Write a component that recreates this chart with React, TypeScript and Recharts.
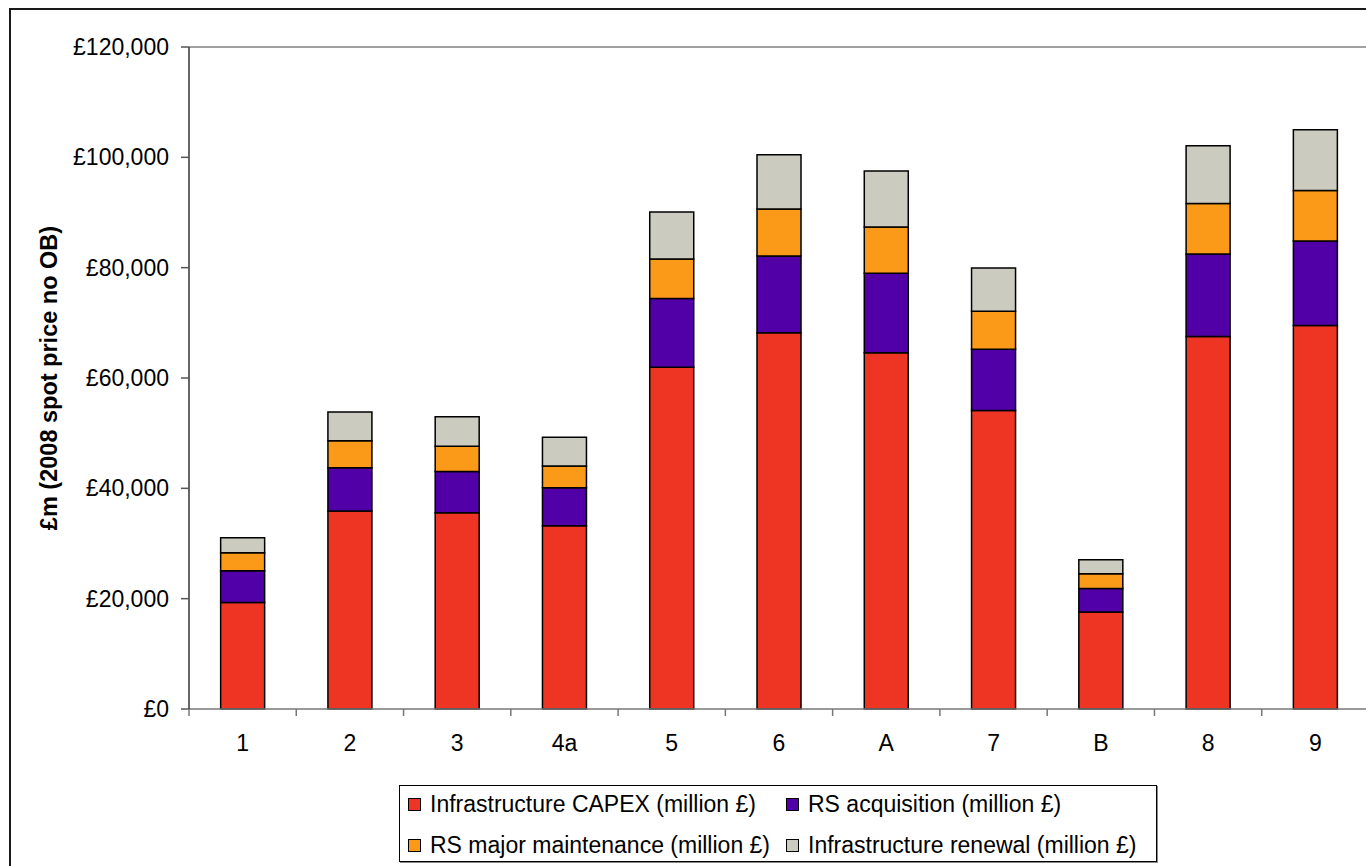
import React from 'react';
import { BarChart, Bar, XAxis, YAxis, ReferenceLine } from 'recharts';

const categories = ['1', '2', '3', '4a', '5', '6', 'A', '7', 'B', '8', '9'];
const infraCapex = [19300, 35900, 35570, 33210, 61970, 68180, 64560, 54100, 17580, 67510, 69500];
const rsAcquisition = [5760, 7850, 7480, 6890, 12430, 13950, 14440, 11130, 4270, 14990, 15350];
const rsMaintenance = [3260, 4890, 4600, 3930, 7190, 8520, 8390, 6880, 2660, 9110, 9120];
const infraRenewal = [2720, 5190, 5310, 5250, 8510, 9840, 10140, 7850, 2540, 10510, 11050];
const yTicks = [0, 20000, 40000, 60000, 80000, 100000, 120000];

const seriesNames = [
  'Infrastructure CAPEX (million £)',
  'RS acquisition (million £)',
  'RS major maintenance (million £)',
  'Infrastructure renewal (million £)',
];
const seriesKeys = ['capex', 'acq', 'maint', 'renew'];
const seriesColors = ['#EE3524', '#5000A6', '#FB9A19', '#CBCBBF'];
const yLabel = '£m (2008 spot price no OB)';

const data = categories.map((c, i) => ({
  name: c,
  capex: infraCapex[i],
  acq: rsAcquisition[i],
  maint: rsMaintenance[i],
  renew: infraRenewal[i],
}));

const FONT = '"Liberation Sans", Arial, sans-serif';
const CHART_W = 1400;
const CHART_H = 866;
const MARGIN = { top: 47, right: 31, bottom: 117, left: 89 };
const Y_AXIS_W = 100;
const PLOT_W = CHART_W - MARGIN.left - MARGIN.right - Y_AXIS_W;
const HALF_BAND = PLOT_W / categories.length / 2;

const fmt = (v: number) => '£' + v.toLocaleString('en-GB');

const XTick = (props: any) => {
  const { x, y, payload, index } = props;
  const half = HALF_BAND;
  return (
    <g>
      <line x1={x - half} x2={x - half} y1={y} y2={y + 7} stroke="#777" strokeWidth={1.5} />
      {index === categories.length - 1 && (
        <line x1={x + half} x2={x + half} y1={y} y2={y + 7} stroke="#777" strokeWidth={1.5} />
      )}
      <text x={x} y={y + 26} dy="0.71em" textAnchor="middle" fill="#000" fontSize={23} fontFamily={FONT}>
        {payload.value}
      </text>
    </g>
  );
};

const YLabel = (props: any) => {
  const vb = props.viewBox || { x: MARGIN.left, y: MARGIN.top, width: Y_AXIS_W, height: 662 };
  const cx = vb.x - 40;
  const cy = vb.y + vb.height / 2;
  return (
    <text
      x={cx}
      y={cy}
      transform={`rotate(-90 ${cx} ${cy})`}
      textAnchor="middle"
      dominantBaseline="central"
      fontSize={23.5}
      fontWeight="bold"
      fontFamily={FONT}
      fill="#000"
    >
      {yLabel}
    </text>
  );
};

export default function App() {
  return (
    <div
      style={{
        position: 'fixed',
        left: 0,
        top: 0,
        width: 1366,
        height: 866,
        overflow: 'hidden',
        background: '#fff',
        fontFamily: FONT,
      }}
    >
      <div
        style={{
          position: 'absolute',
          left: 9,
          top: 8,
          width: 1500,
          height: 1000,
          border: '2px solid #1a1a1a',
        }}
      />
      <div style={{ position: 'absolute', left: 0, top: 0 }}>
        <BarChart width={CHART_W} height={CHART_H} data={data} margin={MARGIN} barCategoryGap="29.5%">
          <ReferenceLine y={120000} stroke="#808080" strokeWidth={1.5} ifOverflow="extendDomain" />
          <XAxis
            dataKey="name"
            height={40}
            tickLine={false}
            tickSize={0}
            tickMargin={0}
            axisLine={{ stroke: '#777', strokeWidth: 1.5 }}
            tick={<XTick />}
            interval={0}
          />
          <YAxis
            width={Y_AXIS_W}
            domain={[0, 120000]}
            ticks={yTicks}
            tickFormatter={fmt}
            tickSize={8}
            tickMargin={12}
            axisLine={{ stroke: '#333', strokeWidth: 1.5 }}
            tickLine={{ stroke: '#555', strokeWidth: 1.5 }}
            tick={{ fill: '#000', fontSize: 23, fontFamily: FONT }}
            label={{ content: <YLabel /> }}
          />
          {seriesKeys.map((k, i) => (
            <Bar
              key={k}
              dataKey={k}
              name={seriesNames[i]}
              stackId="a"
              fill={seriesColors[i]}
              stroke="#000"
              strokeWidth={1.5}
              isAnimationActive={false}
            />
          ))}
        </BarChart>
      </div>
      <div
        style={{
          position: 'absolute',
          left: 399,
          top: 785,
          width: 758,
          height: 77,
          border: '1px solid #000',
          boxShadow: '1px 1px 0 #888',
          boxSizing: 'border-box',
          display: 'grid',
          gridTemplateColumns: '378px 1fr',
          gridTemplateRows: '37px 37px',
          rowGap: 4,
          paddingLeft: 8,
          fontSize: 23,
          color: '#000',
        }}
      >
        {seriesNames.map((n, i) => (
          <div key={n} style={{ display: 'flex', alignItems: 'center', whiteSpace: 'nowrap' }}>
            <span
              style={{
                display: 'inline-block',
                width: 11,
                height: 11,
                background: seriesColors[i],
                border: '1px solid #000',
                marginRight: 9,
              }}
            />
            <span>{n}</span>
          </div>
        ))}
      </div>
    </div>
  );
}
